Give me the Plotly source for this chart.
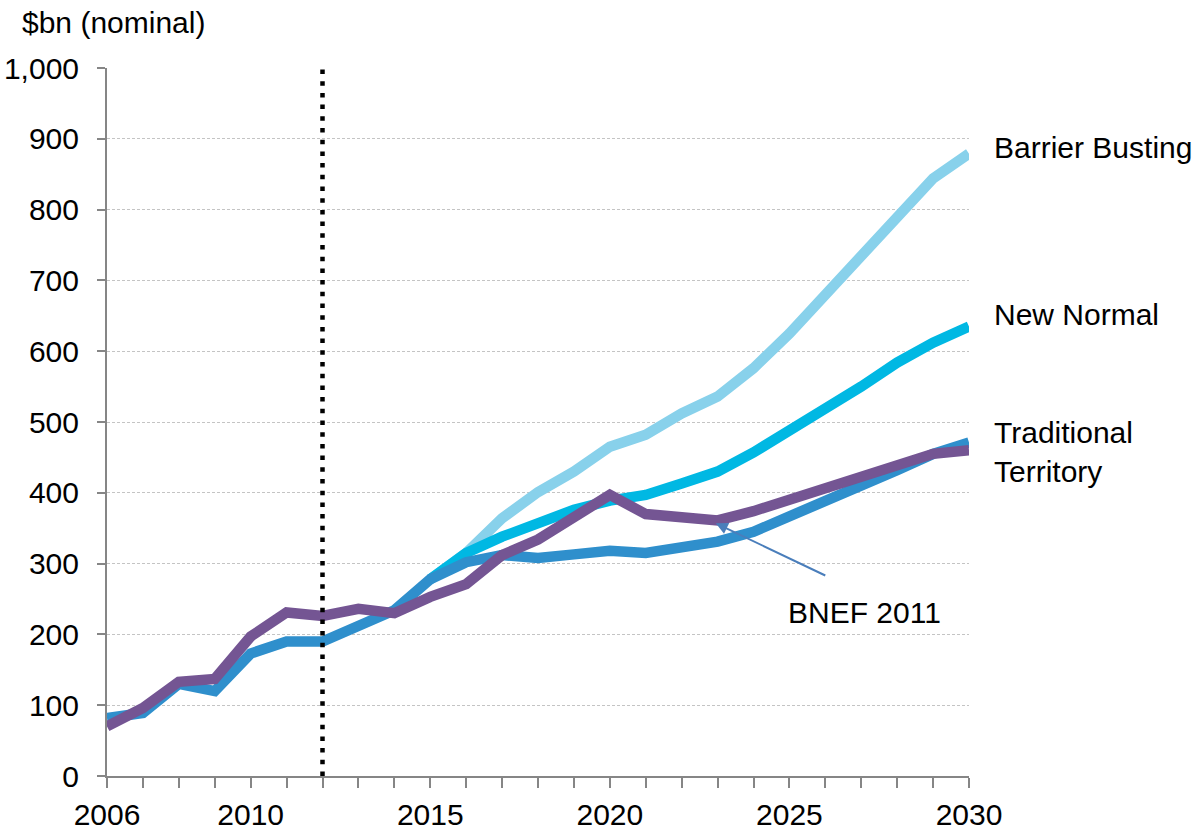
import plotly.graph_objects as go

years = list(range(2006, 2031))
scenario_years = list(range(2015, 2031))

traditional = [82, 89, 130, 120, 173, 190, 190, 211, 234, 278, 302, 312, 308, 313, 318,
               315, 322, 331, 345, 366, 386, 409, 432, 455, 471]
bnef_2011 = [70, 96, 133, 137, 197, 231, 226, 236, 230, 253, 271, 312, 334, 366, 397,
             370, 364, 361, 374, 390, 405, 421, 439, 455, 460]
new_normal = [278, 315, 338, 359, 376, 389, 397, 413, 430, 457, 486, 519, 550, 584, 612, 635]
barrier_busting = [278, 315, 364, 401, 430, 465, 482, 512, 536, 576, 625, 679, 733, 792, 844, 879]

x_tick_years = [2006, 2010, 2015, 2020, 2025, 2030]
y_ticks = list(range(0, 1001, 100))
marker_year = 2012

FONT = "Liberation Sans, Arial, sans-serif"
FS = 30
W, H = 1204, 832
L, R, T, B = 107, 969, 68, 776
PW, PH = R - L, B - T


def px(x):
    return (x - L) / PW


def py(y):
    return (B - y) / PH


fig = go.Figure()
fig.add_trace(go.Scatter(x=scenario_years, y=barrier_busting, mode="lines",
                         line=dict(color="#88D1EB", width=10.5), name="Barrier Busting"))
fig.add_trace(go.Scatter(x=scenario_years, y=new_normal, mode="lines",
                         line=dict(color="#00B8E3", width=10.5), name="New Normal"))
fig.add_trace(go.Scatter(x=years, y=traditional, mode="lines",
                         line=dict(color="#2F8FCC", width=10.5), name="Traditional Territory"))
fig.add_trace(go.Scatter(x=years, y=bnef_2011, mode="lines",
                         line=dict(color="#745593", width=10.5), name="BNEF 2011"))

# vertical dotted marker
fig.add_shape(type="line", x0=marker_year, x1=marker_year, y0=0, y1=1000,
              xref="x", yref="y", line=dict(color="black", width=4.5, dash="4.5px,7.2px"))

fig.update_layout(
    width=W, height=H,
    margin=dict(l=L, r=W - R, t=T, b=H - B),
    paper_bgcolor="white", plot_bgcolor="white",
    showlegend=False,
    font=dict(family=FONT, size=FS, color="black"),
    xaxis=dict(
        range=[2006, 2030], tickmode="array", tickvals=years,
        ticktext=[str(y) if y in x_tick_years else "" for y in years],
        showgrid=False, showline=True, linecolor="#868686", linewidth=2,
        ticks="outside", ticklen=10, tickcolor="#868686", tickwidth=2,
        zeroline=False, tickfont=dict(size=FS), automargin=False,
        ticklabelstandoff=1,
    ),
    yaxis=dict(
        range=[0, 1000], tickvals=y_ticks, tickformat=",d",
        showgrid=True, gridcolor="#C4C4C4", gridwidth=1, griddash="3px,2px",
        showline=True, linecolor="#868686", linewidth=2,
        ticks="outside", ticklen=8, tickcolor="#868686", tickwidth=2,
        zeroline=False, ticklabelstandoff=12, tickfont=dict(size=FS),
        automargin=False,
    ),
)

labels = [("Barrier Busting", 148), ("New Normal", 314), ("Traditional<br>Territory", 452)]
for text, ypix in labels:
    fig.add_annotation(x=px(992), y=py(ypix), xref="paper", yref="paper", text=text,
                       showarrow=False, xanchor="left", yanchor="middle", align="left",
                       font=dict(size=FS, color="black"))

fig.add_annotation(x=px(864), y=py(612), xref="paper", yref="paper", text="BNEF 2011",
                   showarrow=False, xanchor="center", yanchor="middle",
                   font=dict(size=FS, color="black"))
fig.add_annotation(x=2022.95, y=357, xref="x", yref="y", text="", showarrow=True,
                   ax=111, ay=53, arrowhead=2, arrowsize=1.2, arrowwidth=2,
                   arrowcolor="#4A7EBB")

fig.add_annotation(x=px(20), y=py(22), xref="paper", yref="paper",
                   text="$bn (nominal)", showarrow=False, xanchor="left", yanchor="middle",
                   font=dict(size=FS, color="black"))

# drop the browser's default body margin so the figure fills the window
fig.write_html("out.html", config={"displayModeBar": False},
               post_script="document.body.style.margin = '0';")
